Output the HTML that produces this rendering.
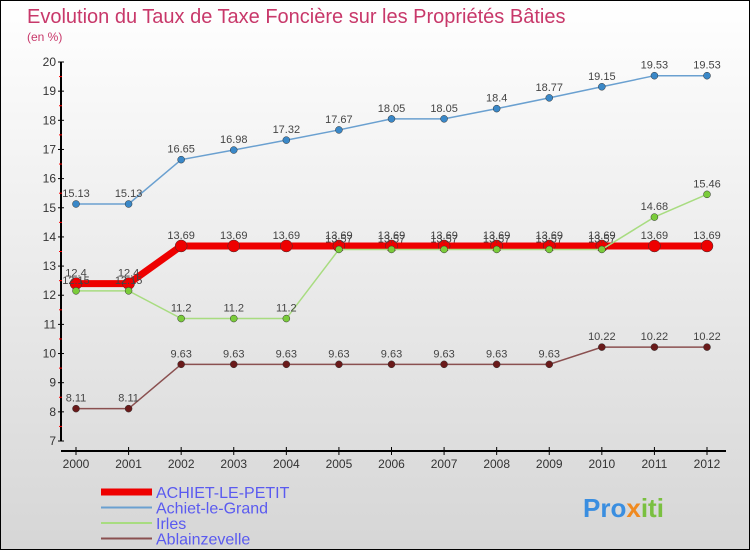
<!DOCTYPE html>
<html><head><meta charset="utf-8"><style>
body{margin:0}
#c{width:750px;height:550px;position:relative;box-sizing:border-box;border:1px solid #000;background:linear-gradient(#fff,#d6d6d6);font-family:"Liberation Sans",sans-serif;overflow:hidden}
svg{position:absolute;left:0;top:0}
</style></head><body>
<div id="c">
<svg id="s" width="750" height="550">
<text x="26" y="22" font-size="20" fill="#c8386a">Evolution du Taux de Taxe Foncière sur les Propriétés Bâties</text>
<text x="26" y="40" font-size="12" fill="#c8386a">(en %)</text>
</svg>
</div>
<script>
const years=[2000,2001,2002,2003,2004,2005,2006,2007,2008,2009,2010,2011,2012];
const yTicks=[7,8,9,10,11,12,13,14,15,16,17,18,19,20];
const achietPetit=[12.4,12.4,13.69,13.69,13.69,13.69,13.69,13.69,13.69,13.69,13.69,13.69,13.69];
const achietGrand=[15.13,15.13,16.65,16.98,17.32,17.67,18.05,18.05,18.4,18.77,19.15,19.53,19.53];
const irles=[12.15,12.15,11.2,11.2,11.2,13.57,13.57,13.57,13.57,13.57,13.57,14.68,15.46];
const ablain=[8.11,8.11,9.63,9.63,9.63,9.63,9.63,9.63,9.63,9.63,10.22,10.22,10.22];
const s=document.getElementById('s');const NS='http://www.w3.org/2000/svg';
const X=i=>75+i*(706-75)/(years.length-1);
const Y=v=>440-(v-7)*(440-61)/13;
function mk(t,a,p){const e=document.createElementNS(NS,t);for(const k in a)e.setAttribute(k,a[k]);(p||s).appendChild(e);return e;}
let e;
e=mk('line',{x1:60,y1:61,x2:60,y2:440,stroke:'#000','stroke-width':2});


e=mk('line',{x1:60,y1:450,x2:725,y2:450,stroke:'#000','stroke-width':2});


yTicks.forEach(v=>{mk('line',{x1:57,y1:Y(v),x2:63,y2:Y(v),stroke:'#000'});
 if(v<20)mk('line',{x1:58,y1:Y(v+0.5),x2:61,y2:Y(v+0.5),stroke:'#f00'});
 e=mk('text',{x:55,y:Y(v)+4,'font-size':12,'text-anchor':'end',fill:'#333'});e.textContent=v;
 
 });
years.forEach((y,i)=>{mk('line',{x1:X(i),y1:446,x2:X(i),y2:454,stroke:'#000'});
 e=mk('text',{x:X(i),y:467,'font-size':12,'text-anchor':'middle',fill:'#333'});e.textContent=y;
 
 });
function series(d,col,w,r,dot,name,lab){
 const g=mk('g',{});
 mk('polyline',{points:d.map((v,i)=>X(i)+','+Y(v)).join(' '),fill:'none',stroke:col,'stroke-width':w},g);
 d.forEach((v,i)=>{mk('circle',{cx:X(i),cy:Y(v),r:r,fill:dot,stroke:'#333','stroke-width':0.5},g);
  if(lab){const t=mk('text',{x:X(i),y:Y(v)-7,'font-size':11,'text-anchor':'middle',fill:'#444'},g);t.textContent=v;}});
}
series(achietPetit,'#ee0000',7,6,'#ee0000','series-achiet-le-petit',true);
series(ablain,'#8a5050',1.5,3.5,'#6a1a1a','series-ablainzevelle',true);
series(achietGrand,'#6aa0d0',1.5,3.5,'#3a88c8','series-achiet-le-grand',true);
series(irles,'#a8dc80',1.5,3.5,'#7acc3a','series-irles',true);
const leg=[['ACHIET-LE-PETIT','#ee0000',7],['Achiet-le-Grand','#6aa0d0',2],['Irles','#a8dc80',2],['Ablainzevelle','#8a5050',2]];
leg.forEach((l,i)=>{const yy=491+i*15.5;const g=mk('g',{});
 
 
 mk('line',{x1:100,y1:yy,x2:151,y2:yy,stroke:l[1],'stroke-width':l[2]},g);
 const t=mk('text',{x:155,y:yy+6,'font-size':16,fill:'#5a5af0'},g);t.textContent=l[0];});
e=mk('text',{x:582,y:516,'font-size':26,'font-weight':'bold',fill:'#3a8ee0'});
e.innerHTML='Pro<tspan fill="#f08a20">x</tspan><tspan fill="#7ac040">iti</tspan>';


</script>
</body></html>
